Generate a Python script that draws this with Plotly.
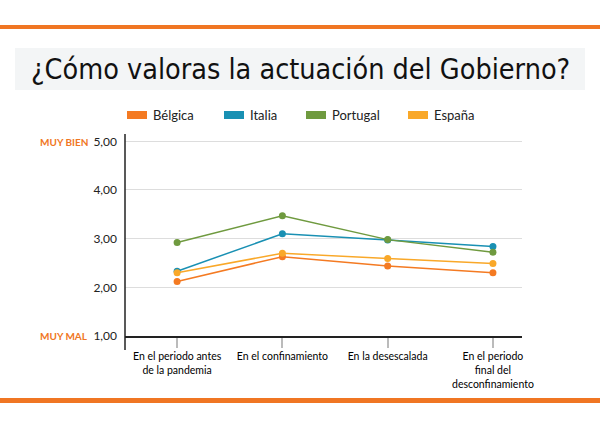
import plotly.graph_objects as go

categories = ["En el periodo antes<br>de la pandemia", "En el confinamiento", "En la desescalada",
              "En el periodo<br>final del<br>desconfinamiento"]
series_names = ["Bélgica", "Italia", "Portugal", "España"]
belgica = [2.12, 2.63, 2.44, 2.30]
italia = [2.33, 3.10, 2.97, 2.84]
portugal = [2.92, 3.47, 2.98, 2.72]
espana = [2.30, 2.70, 2.59, 2.49]
yticks = [1, 2, 3, 4, 5]
title_text = "¿Cómo valoras la actuación del Gobierno?"

colors = ["#F47A22", "#1990B3", "#6F9A3F", "#F9A829"]
values = [belgica, italia, portugal, espana]

W, H = 600, 430
L, R, T, B = 125, 78, 134, 94
pw, ph = W - L - R, H - T - B


def px(x):
    return (x - L) / pw


def py(y):
    return (H - B - y) / ph


xpos = list(range(len(categories)))
fig = go.Figure()
for name, vals, c in zip(series_names, values, colors):
    fig.add_trace(go.Scatter(x=xpos, y=vals, mode="lines+markers", name=name,
                             line=dict(color=c, width=1.5), marker=dict(color=c, size=7),
                             showlegend=False))

shapes = []
annotations = []
orange = "#F07623"
# top & bottom bars
shapes.append(dict(type="rect", xref="paper", yref="paper", x0=px(0), x1=px(600), y0=py(29), y1=py(25),
                   fillcolor=orange, line=dict(width=0), layer="above"))
shapes.append(dict(type="rect", xref="paper", yref="paper", x0=px(0), x1=px(600), y0=py(403), y1=py(398),
                   fillcolor=orange, line=dict(width=0), layer="above"))
# title background
shapes.append(dict(type="rect", xref="paper", yref="paper", x0=px(15), x1=px(585), y0=py(90), y1=py(48),
                   fillcolor="#F3F5F6", line=dict(width=0), layer="below"))
annotations.append(dict(text=title_text, xref="paper", yref="paper", x=px(300), y=py(70),
                        showarrow=False, xanchor="center", yanchor="middle",
                        font=dict(family="DejaVu Sans Condensed, Roboto", size=28.5, color="#111")))
# y-axis line extended
shapes.append(dict(type="line", xref="paper", yref="paper", x0=0, x1=0, y0=py(350), y1=py(134),
                   line=dict(color="#222", width=1.5), layer="above"))
# legend
leg_x = [127, 224, 306, 408]
for name, c, lx in zip(series_names, colors, leg_x):
    shapes.append(dict(type="rect", xref="paper", yref="paper", x0=px(lx), x1=px(lx + 20),
                       y0=py(119), y1=py(111), fillcolor=c, line=dict(width=0)))
    annotations.append(dict(text=name, xref="paper", yref="paper", x=px(lx + 24), y=py(115),
                            showarrow=False, xanchor="left", yanchor="middle",
                            font=dict(family="Lato", size=13, color="#222")))
# MUY BIEN / MUY MAL
for txt, yy in [("MUY BIEN", 142), ("MUY MAL", 336)]:
    annotations.append(dict(text="<b>" + txt + "</b>", xref="paper", yref="paper", x=px(90), y=py(yy),
                            showarrow=False, xanchor="right", yanchor="middle",
                            font=dict(family="Lato", size=10, color="#F07623")))

fig.update_layout(
    width=W, height=H, margin=dict(l=L, r=R, t=T, b=B),
    paper_bgcolor="white", plot_bgcolor="white",
    separators=",.",
    shapes=shapes, annotations=annotations,
    xaxis=dict(range=[-0.495, 3.276], tickmode="array", tickvals=xpos, ticktext=categories,
               showgrid=False, zeroline=False, showline=True, linecolor="#222", linewidth=1.5,
               ticks="outside", ticklen=10, tickwidth=2, tickcolor="#BBBBBB",
               tickfont=dict(family="Lato", size=10.5, color="#000"), fixedrange=True),
    yaxis=dict(range=[1, 5.15], tickmode="array", tickvals=yticks, tickformat=".2f",
               showgrid=True, gridcolor="#DDDDDD", gridwidth=1, zeroline=False, showline=False,
               ticks="", ticklabelstandoff=7,
               tickfont=dict(family="Lato", size=12, color="#222"), fixedrange=True),
)

fig.write_html("out.html")
